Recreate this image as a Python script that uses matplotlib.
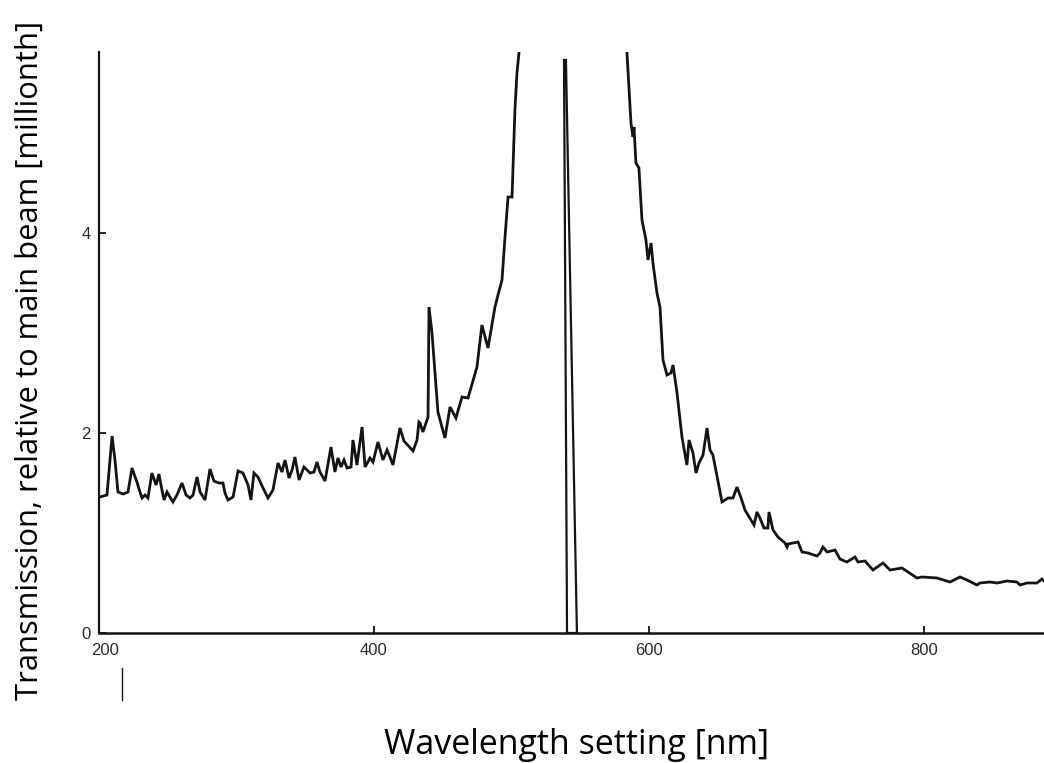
import matplotlib
matplotlib.use("Agg")
import matplotlib.pyplot as plt
import matplotlib.transforms as mtransforms
from matplotlib.lines import Line2D
import numpy as np

# blue side of the spectrum (nm, millionth of main beam)
left_nm = [200.7, 205.8, 209.5, 211.6, 213.8, 217.5, 221.1, 224.0, 227.6, 229.8,
           231.3, 233.5, 235.6, 238.5, 241.5, 243.6, 245.8, 247.3, 249.5, 251.6,
           253.8, 256.7, 260.4, 263.3, 266.2, 268.4, 271.3, 273.5, 277.1, 280.7,
           283.6, 287.3, 290.2, 291.6, 293.8, 297.5, 301.1, 304.7, 308.4, 310.5,
           312.7, 315.6, 319.3, 322.9, 326.5, 330.2, 333.1, 335.3, 338.2, 340.4,
           342.5, 345.5, 349.1, 353.5, 356.4, 358.5, 360.7, 364.4, 368.7, 371.6,
           373.8, 376.0, 378.2, 380.4, 383.3, 384.7, 387.6, 391.3, 393.5, 397.1,
           399.3, 402.9, 406.5, 409.5, 411.6, 413.8, 418.9, 421.8, 428.4, 431.3,
           432.7, 433.5, 435.6, 439.3, 440.0, 442.2, 446.5, 451.6, 455.3, 459.6,
           464.0, 468.4, 474.9, 478.5, 482.9, 488.0, 490.2, 493.1, 495.3, 497.5,
           500.4, 502.5, 504.0, 505.5, 506.9]
left_val = [1.36, 1.38, 1.97, 1.73, 1.41, 1.39, 1.41, 1.65, 1.51, 1.41,
            1.35, 1.38, 1.35, 1.60, 1.48, 1.59, 1.43, 1.33, 1.41, 1.36,
            1.31, 1.38, 1.50, 1.38, 1.35, 1.38, 1.56, 1.41, 1.33, 1.64,
            1.52, 1.50, 1.50, 1.40, 1.33, 1.36, 1.62, 1.60, 1.48, 1.33,
            1.60, 1.56, 1.45, 1.35, 1.43, 1.70, 1.61, 1.73, 1.55, 1.63,
            1.76, 1.53, 1.66, 1.60, 1.61, 1.71, 1.61, 1.52, 1.86, 1.61,
            1.75, 1.66, 1.73, 1.65, 1.66, 1.93, 1.68, 2.06, 1.66, 1.75,
            1.71, 1.91, 1.73, 1.83, 1.76, 1.68, 2.05, 1.92, 1.82, 1.93,
            2.11, 2.10, 2.01, 2.16, 3.26, 3.00, 2.21, 1.95, 2.26, 2.15,
            2.36, 2.35, 2.66, 3.08, 2.85, 3.26, 3.38, 3.53, 3.96, 4.36,
            4.36, 5.23, 5.60, 5.81, 6.20]

# main beam notch
notch_nm = [538.2, 540.4, 547.6, 539.6]
notch_val = [5.73, 0.0, 0.0, 5.73]

# red side
right_nm = [583.3, 584.0, 586.9, 588.4, 589.1, 590.5, 592.7, 594.9, 597.8, 599.3,
            601.5, 602.9, 605.8, 608.0, 610.2, 613.1, 616.0, 617.5, 620.4, 624.0,
            627.6, 629.1, 632.0, 634.2, 636.4, 639.3, 642.2, 644.4, 646.5, 653.1,
            657.5, 661.1, 664.0, 667.0, 669.8, 676.4, 678.5, 680.7, 683.6, 686.5,
            687.3, 690.2, 693.8, 698.9, 700.4, 701.1, 708.4, 711.3, 715.6, 722.2,
            724.4, 726.5, 729.5, 735.3, 738.9, 744.0, 749.8, 752.0, 757.1, 762.9,
            770.2, 775.3, 784.0, 788.4, 794.9, 798.5, 809.5, 818.9, 826.2, 831.3,
            838.5, 840.7, 848.0, 853.1, 860.4, 867.6, 869.8, 874.9, 882.2, 885.8,
            887.3]
right_val = [6.00, 5.80, 5.10, 4.96, 5.06, 4.70, 4.65, 4.13, 3.93, 3.73,
             3.90, 3.70, 3.40, 3.26, 2.73, 2.58, 2.60, 2.68, 2.40, 1.96,
             1.68, 1.93, 1.80, 1.60, 1.70, 1.78, 2.05, 1.83, 1.78, 1.31,
             1.35, 1.35, 1.46, 1.35, 1.23, 1.08, 1.21, 1.15, 1.05, 1.05,
             1.21, 1.03, 0.96, 0.90, 0.86, 0.89, 0.91, 0.81, 0.80, 0.77,
             0.80, 0.86, 0.81, 0.83, 0.74, 0.71, 0.76, 0.71, 0.72, 0.63,
             0.70, 0.63, 0.65, 0.61, 0.55, 0.56, 0.55, 0.51, 0.56, 0.53,
             0.48, 0.50, 0.51, 0.50, 0.52, 0.51, 0.48, 0.50, 0.50, 0.54,
             0.52]

x_ticks = [200, 400, 600, 800]
y_ticks = [0, 2, 4]

fig = plt.figure(figsize=(10.44, 7.63), dpi=100)
ax = fig.add_axes([99 / 1044, 130 / 763, 1 - 99 / 1044, 581 / 763])

ink = "#141414"
ax.plot(left_nm, left_val, color=ink, lw=2.0, solid_joinstyle="miter")
ax.plot(notch_nm, notch_val, color=ink, lw=1.6)
ax.plot(right_nm, right_val, color=ink, lw=2.0, solid_joinstyle="miter")

ax.set_xlim(200, 887.3)
ax.set_ylim(0, 5.81)
ax.set_xticks(x_ticks)
ax.set_yticks(y_ticks)
ax.tick_params(direction="in", length=5, width=1.3, colors=ink,
               labelsize=12, labelcolor="#2a2a2a")
ax.tick_params(axis="x", pad=7)
ax.tick_params(axis="y", pad=6)
for lab in ax.get_xticklabels() + ax.get_yticklabels():
    lab.set_family("Liberation Sans")

# the first x label sits a bit right of its tick in the scan
first = ax.get_xticklabels()[0]
first.set_transform(first.get_transform() +
                    mtransforms.ScaledTranslation(6 / 100, 0, fig.dpi_scale_trans))

for side in ["top", "right"]:
    ax.spines[side].set_visible(False)
ax.spines["left"].set_linewidth(1.6)
ax.spines["bottom"].set_linewidth(1.8)
ax.spines["left"].set_color(ink)
ax.spines["bottom"].set_color(ink)

fig.text(30 / 1044, 1 - 360 / 763, "Transmission, relative to main beam [millionth]",
         rotation=90, ha="center", va="center", fontsize=22.3, family="Open Sans")
fig.text(577 / 1044, 1 - 745 / 763, "Wavelength setting [nm]",
         ha="center", va="center", fontsize=24.5, family="Open Sans")

# stray mark below the axis in the scan
fig.add_artist(Line2D([122 / 1044, 122 / 1044], [1 - 668 / 763, 1 - 700 / 763],
                      color=ink, lw=1.0))

fig.savefig("out.png", dpi=100)
